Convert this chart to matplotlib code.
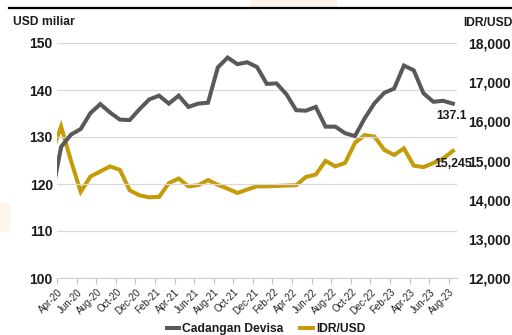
import matplotlib
matplotlib.use("Agg")
import matplotlib.pyplot as plt
import matplotlib.transforms as mtransforms
from matplotlib.lines import Line2D
from matplotlib.patches import Rectangle
import numpy as np

plt.rcParams['font.family'] = ['Liberation Sans', 'DejaVu Sans']

# monthly data, Mar-20 .. Aug-23 (Mar-20 sits just left of the visible axis)
months = ['Mar-20', 'Apr-20', 'May-20', 'Jun-20', 'Jul-20', 'Aug-20', 'Sep-20', 'Oct-20',
          'Nov-20', 'Dec-20', 'Jan-21', 'Feb-21', 'Mar-21', 'Apr-21', 'May-21', 'Jun-21',
          'Jul-21', 'Aug-21', 'Sep-21', 'Oct-21', 'Nov-21', 'Dec-21', 'Jan-22', 'Feb-22',
          'Mar-22', 'Apr-22', 'May-22', 'Jun-22', 'Jul-22', 'Aug-22', 'Sep-22', 'Oct-22',
          'Nov-22', 'Dec-22', 'Jan-23', 'Feb-23', 'Mar-23', 'Apr-23', 'May-23', 'Jun-23',
          'Jul-23', 'Aug-23']
cadangan = [117.0, 127.9, 130.5, 131.7, 135.1, 137.0, 135.2, 133.7, 133.6, 135.9, 138.0,
            138.8, 137.1, 138.8, 136.4, 137.1, 137.3, 144.8, 146.9, 145.5, 145.9, 144.9,
            141.3, 141.4, 139.1, 135.7, 135.6, 136.4, 132.2, 132.2, 130.8, 130.2, 134.0,
            137.2, 139.4, 140.3, 145.2, 144.2, 139.3, 137.5, 137.7, 137.1]
idr_usd = [15150, 15870, 15000, 14200, 14590, 14720, 14850, 14760, 14240, 14110, 14060,
           14070, 14420, 14540, 14340, 14370, 14500, 14380, 14280, 14170, 14260, 14340,
           14340, 14350, 14360, 14370, 14580, 14640, 14990, 14850, 14940, 15450, 15650,
           15610, 15270, 15140, 15310, 14870, 14830, 14935, 15050, 15245]
left_ticks = [100, 110, 120, 130, 140, 150]
right_ticks = [12000, 13000, 14000, 15000, 16000, 17000, 18000]

gray = '#595959'
gold = '#c59b08'
txt = '#1a1a1a'

x = np.arange(len(months)) - 1  # Apr-20 -> 0

fig = plt.figure(figsize=(5.12, 3.35), dpi=100)
ax = fig.add_axes([57 / 512, 1 - 278 / 335, 400 / 512, 235 / 335])
ax2 = ax.twinx()

# slide decorations
fig.add_artist(Rectangle((250 / 512, 1 - 7 / 335), 87 / 512, 7 / 335,
                         transform=fig.transFigure, color='#fcf3e6', lw=0, zorder=0))
fig.add_artist(Rectangle((0, 1 - 232 / 335), 10 / 512, 29 / 335,
                         transform=fig.transFigure, color='#fdf5e9', lw=0, zorder=0))
fig.add_artist(Line2D([9 / 512, 1], [1 - 8.3 / 335, 1 - 8.3 / 335],
                      transform=fig.transFigure, color='black', lw=1.6))

ax.plot(x, cadangan, color=gray, lw=2.9, solid_joinstyle='miter', zorder=3)
ax2.plot(x, idr_usd, color=gold, lw=2.9, solid_joinstyle='miter', zorder=3)
ax.set_zorder(ax2.get_zorder() + 1)
ax.patch.set_visible(False)

ax.set_xlim(-0.42, 40.42)
ax.set_ylim(100, 150)
ax2.set_ylim(12000, 18000)

ax.set_yticks(left_ticks)
ax.set_yticklabels([str(v) for v in left_ticks], fontsize=10, fontweight='bold', color=txt)
ax2.set_yticks(right_ticks)
ax2.set_yticklabels([f'{v:,}' for v in right_ticks], fontsize=10, fontweight='bold', color=txt)
ax.tick_params(axis='y', length=0, pad=3)
ax2.tick_params(axis='y', length=0, pad=8)

lab_months = months[1::2]
ax.set_xticks(np.arange(0, 41, 2) - 0.42)
ax.set_xticklabels(lab_months, rotation=45, ha='right', va='center',
                   rotation_mode='anchor', fontsize=7, color='#262626')
ax.tick_params(axis='x', length=4, color='#bfbfbf', width=0.8, pad=5)
shift = mtransforms.ScaledTranslation(4 / 100, 0, fig.dpi_scale_trans)
for lab in ax.get_xticklabels():
    lab.set_transform(lab.get_transform() + shift)

ax.grid(axis='y', color='#d9d9d9', lw=0.9)
ax.set_axisbelow(True)
for a in (ax, ax2):
    for s in ('top', 'left', 'right'):
        a.spines[s].set_visible(False)
ax.spines['bottom'].set_color('#d0d0d0')
ax2.spines['bottom'].set_visible(False)

ax.annotate(f'{cadangan[-1]}', xy=(x[-1], cadangan[-1]), xytext=(-1, -9),
            textcoords='offset points', ha='center', va='center',
            fontsize=8.7, fontweight='bold', color=txt)
ax2.annotate(f'{idr_usd[-1]:,}', xy=(x[-1], idr_usd[-1]), xytext=(0, -9.5),
             textcoords='offset points', ha='center', va='center',
             fontsize=8.8, fontweight='bold', color=txt)

fig.text(12.7 / 512, 1 - 22 / 335, 'USD miliar', ha='left', va='center',
         fontsize=8.7, fontweight='bold', color=txt)
fig.text(463 / 512, 1 - 22.5 / 335, 'IDR/USD', ha='left', va='center',
         fontsize=8.7, fontweight='bold', color=txt)

handles = [Line2D([], [], color=gray, lw=2.9, solid_capstyle='butt'),
           Line2D([], [], color=gold, lw=2.9, solid_capstyle='butt')]
fig.legend(handles, ['Cadangan Devisa', 'IDR/USD'], loc='center',
           bbox_to_anchor=(265 / 512, 1 - 329 / 335), ncol=2, frameon=False,
           prop={'size': 8.7, 'weight': 'bold'}, handlelength=1.37,
           handletextpad=0.1, columnspacing=1.2, labelcolor=txt,
           borderpad=0.1)

fig.savefig('out.png', dpi=100)
